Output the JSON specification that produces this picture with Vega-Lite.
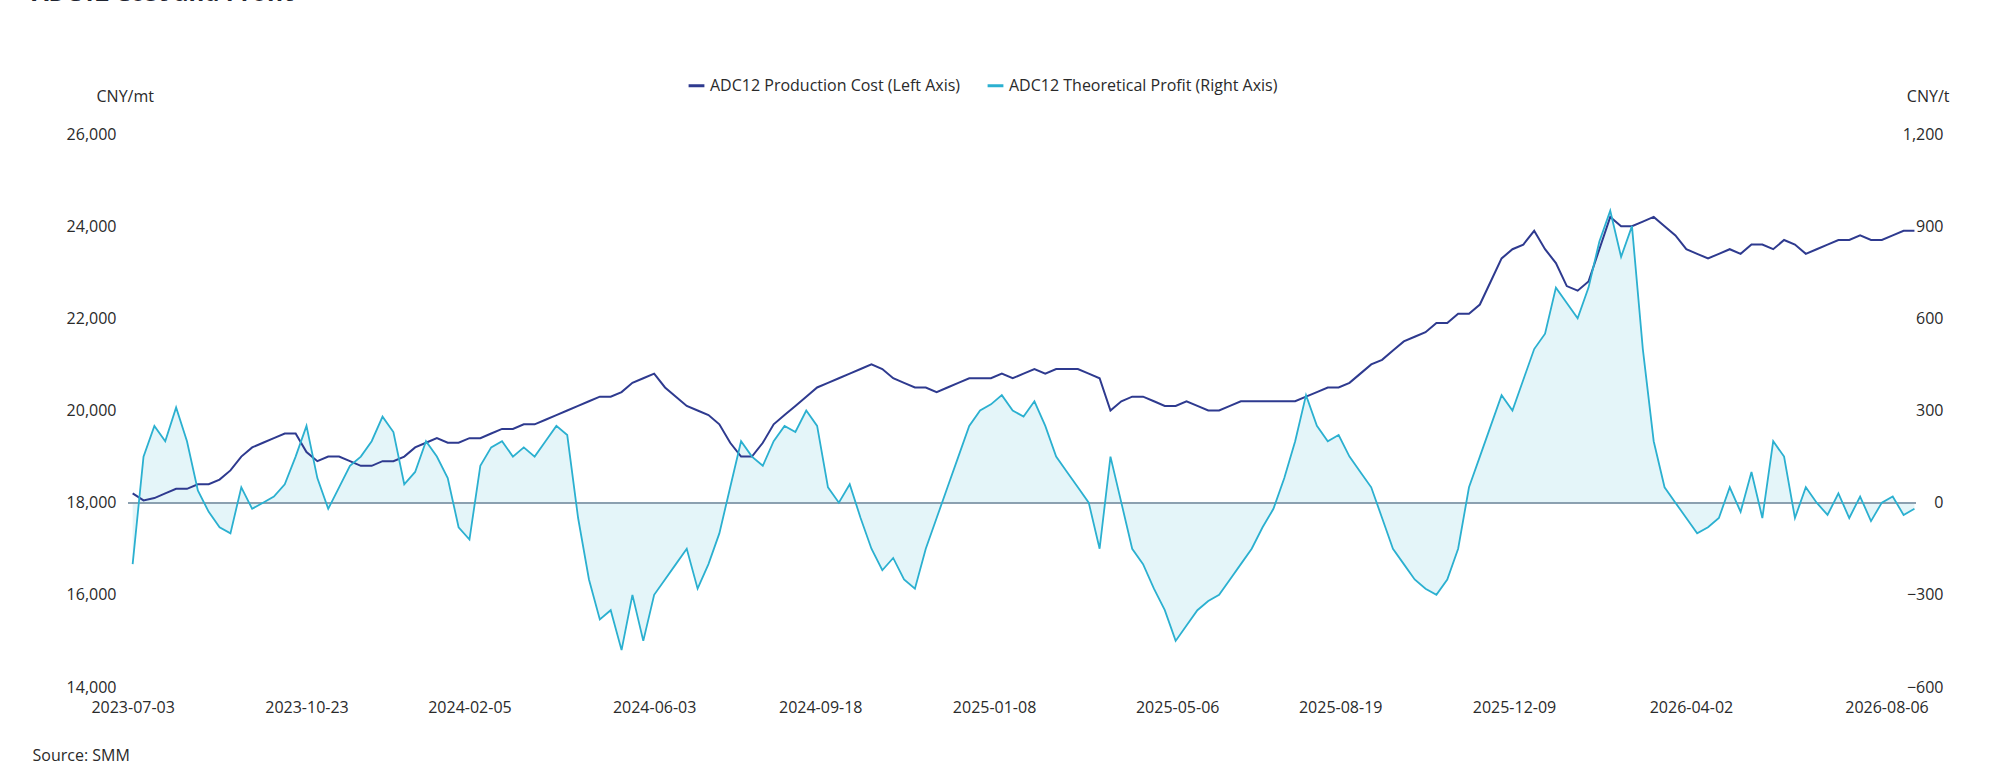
{
"$schema":"https://vega.github.io/schema/vega-lite/v6.json",
"width":1788,"height":553,
"autosize":{"type":"none"},
"padding":{"left":128,"top":134,"right":91,"bottom":96},
"background":"white",
"config":{"font":"Open Sans","view":{"stroke":null}},
"title":{"text":"ADC12 Cost and Profit","anchor":"start","frame":"group","dx":-96,"offset":70,"fontSize":24,"fontWeight":"bold","color":"#1f2430","font":"Open Sans"},
"data":{"values":[
{"d":"2023-07-03","c":18200,"p":-200},{"d":"2023-07-10","c":18050,"p":150},{"d":"2023-07-17","c":18100,"p":250},{"d":"2023-07-24","c":18200,"p":200},{"d":"2023-07-31","c":18300,"p":310},{"d":"2023-08-07","c":18300,"p":200},{"d":"2023-08-14","c":18400,"p":40},{"d":"2023-08-21","c":18400,"p":-30},{"d":"2023-08-28","c":18500,"p":-80},{"d":"2023-09-04","c":18700,"p":-100},{"d":"2023-09-11","c":19000,"p":50},{"d":"2023-09-18","c":19200,"p":-20},{"d":"2023-09-25","c":19300,"p":0},{"d":"2023-10-02","c":19400,"p":20},{"d":"2023-10-09","c":19500,"p":60},{"d":"2023-10-16","c":19500,"p":150},
{"d":"2023-10-23","c":19100,"p":250},{"d":"2023-10-30","c":18900,"p":80},{"d":"2023-11-06","c":19000,"p":-20},{"d":"2023-11-13","c":19000,"p":50},{"d":"2023-11-20","c":18900,"p":120},{"d":"2023-11-27","c":18800,"p":150},{"d":"2023-12-04","c":18800,"p":200},{"d":"2023-12-11","c":18900,"p":280},{"d":"2023-12-18","c":18900,"p":230},{"d":"2023-12-25","c":19000,"p":60},{"d":"2024-01-01","c":19200,"p":100},{"d":"2024-01-08","c":19300,"p":200},{"d":"2024-01-15","c":19400,"p":150},{"d":"2024-01-22","c":19300,"p":80},{"d":"2024-01-29","c":19300,"p":-80},{"d":"2024-02-05","c":19400,"p":-120},
{"d":"2024-02-12","c":19400,"p":120},{"d":"2024-02-19","c":19500,"p":180},{"d":"2024-02-26","c":19600,"p":200},{"d":"2024-03-04","c":19600,"p":150},{"d":"2024-03-11","c":19700,"p":180},{"d":"2024-03-18","c":19700,"p":150},{"d":"2024-03-25","c":19800,"p":200},{"d":"2024-04-01","c":19900,"p":250},{"d":"2024-04-08","c":20000,"p":220},{"d":"2024-04-15","c":20100,"p":-50},{"d":"2024-04-22","c":20200,"p":-250},{"d":"2024-04-29","c":20300,"p":-380},{"d":"2024-05-06","c":20300,"p":-350},{"d":"2024-05-13","c":20400,"p":-480},{"d":"2024-05-20","c":20600,"p":-300},{"d":"2024-05-27","c":20700,"p":-450},
{"d":"2024-06-03","c":20800,"p":-300},{"d":"2024-06-10","c":20500,"p":-250},{"d":"2024-06-17","c":20300,"p":-200},{"d":"2024-06-24","c":20100,"p":-150},{"d":"2024-07-01","c":20000,"p":-280},{"d":"2024-07-08","c":19900,"p":-200},{"d":"2024-07-15","c":19700,"p":-100},{"d":"2024-07-22","c":19300,"p":50},{"d":"2024-07-29","c":19000,"p":200},{"d":"2024-08-05","c":19000,"p":150},{"d":"2024-08-12","c":19300,"p":120},{"d":"2024-08-19","c":19700,"p":200},{"d":"2024-08-26","c":19900,"p":250},{"d":"2024-09-02","c":20100,"p":230},{"d":"2024-09-09","c":20300,"p":300},
{"d":"2024-09-16","c":20500,"p":250},{"d":"2024-09-23","c":20600,"p":50},{"d":"2024-09-30","c":20700,"p":0},{"d":"2024-10-07","c":20800,"p":60},{"d":"2024-10-14","c":20900,"p":-50},{"d":"2024-10-21","c":21000,"p":-150},{"d":"2024-10-28","c":20900,"p":-220},{"d":"2024-11-04","c":20700,"p":-180},{"d":"2024-11-11","c":20600,"p":-250},{"d":"2024-11-18","c":20500,"p":-280},{"d":"2024-11-25","c":20500,"p":-150},{"d":"2024-12-02","c":20400,"p":-50},{"d":"2024-12-09","c":20500,"p":50},{"d":"2024-12-16","c":20600,"p":150},{"d":"2024-12-23","c":20700,"p":250},{"d":"2024-12-30","c":20700,"p":300},
{"d":"2025-01-06","c":20700,"p":320},{"d":"2025-01-13","c":20800,"p":350},{"d":"2025-01-20","c":20700,"p":300},{"d":"2025-01-27","c":20800,"p":280},{"d":"2025-02-03","c":20900,"p":330},{"d":"2025-02-10","c":20800,"p":250},{"d":"2025-02-17","c":20900,"p":150},{"d":"2025-02-24","c":20900,"p":100},{"d":"2025-03-03","c":20900,"p":50},{"d":"2025-03-10","c":20800,"p":0},{"d":"2025-03-17","c":20700,"p":-150},{"d":"2025-03-24","c":20000,"p":150},{"d":"2025-03-31","c":20200,"p":0},{"d":"2025-04-07","c":20300,"p":-150},{"d":"2025-04-14","c":20300,"p":-200},{"d":"2025-04-21","c":20200,"p":-280},{"d":"2025-04-28","c":20100,"p":-350},
{"d":"2025-05-05","c":20100,"p":-450},{"d":"2025-05-12","c":20200,"p":-400},{"d":"2025-05-19","c":20100,"p":-350},{"d":"2025-05-26","c":20000,"p":-320},{"d":"2025-06-02","c":20000,"p":-300},{"d":"2025-06-09","c":20100,"p":-250},{"d":"2025-06-16","c":20200,"p":-200},{"d":"2025-06-23","c":20200,"p":-150},{"d":"2025-06-30","c":20200,"p":-80},{"d":"2025-07-07","c":20200,"p":-20},{"d":"2025-07-14","c":20200,"p":80},{"d":"2025-07-21","c":20200,"p":200},{"d":"2025-07-28","c":20300,"p":350},{"d":"2025-08-04","c":20400,"p":250},{"d":"2025-08-11","c":20500,"p":200},
{"d":"2025-08-18","c":20500,"p":220},{"d":"2025-08-25","c":20600,"p":150},{"d":"2025-09-01","c":20800,"p":100},{"d":"2025-09-08","c":21000,"p":50},{"d":"2025-09-15","c":21100,"p":-50},{"d":"2025-09-22","c":21300,"p":-150},{"d":"2025-09-29","c":21500,"p":-200},{"d":"2025-10-06","c":21600,"p":-250},{"d":"2025-10-13","c":21700,"p":-280},{"d":"2025-10-20","c":21900,"p":-300},{"d":"2025-10-27","c":21900,"p":-250},{"d":"2025-11-03","c":22100,"p":-150},{"d":"2025-11-10","c":22100,"p":50},{"d":"2025-11-17","c":22300,"p":150},{"d":"2025-11-24","c":22800,"p":250},{"d":"2025-12-01","c":23300,"p":350},
{"d":"2025-12-08","c":23500,"p":300},{"d":"2025-12-15","c":23600,"p":400},{"d":"2025-12-22","c":23900,"p":500},{"d":"2025-12-29","c":23500,"p":550},{"d":"2026-01-05","c":23200,"p":700},{"d":"2026-01-12","c":22700,"p":650},{"d":"2026-01-19","c":22600,"p":600},{"d":"2026-01-26","c":22800,"p":700},{"d":"2026-02-02","c":23500,"p":850},{"d":"2026-02-09","c":24200,"p":950},{"d":"2026-02-16","c":24000,"p":800},{"d":"2026-02-23","c":24000,"p":900},{"d":"2026-03-02","c":24100,"p":500},{"d":"2026-03-09","c":24200,"p":200},{"d":"2026-03-16","c":24000,"p":50},{"d":"2026-03-23","c":23800,"p":0},
{"d":"2026-03-30","c":23500,"p":-50},{"d":"2026-04-06","c":23400,"p":-100},{"d":"2026-04-13","c":23300,"p":-80},{"d":"2026-04-20","c":23400,"p":-50},{"d":"2026-04-27","c":23500,"p":50},{"d":"2026-05-04","c":23400,"p":-30},{"d":"2026-05-11","c":23600,"p":100},{"d":"2026-05-18","c":23600,"p":-50},{"d":"2026-05-25","c":23500,"p":200},{"d":"2026-06-01","c":23700,"p":150},{"d":"2026-06-08","c":23600,"p":-50},{"d":"2026-06-15","c":23400,"p":50},{"d":"2026-06-22","c":23500,"p":0},{"d":"2026-06-29","c":23600,"p":-40},{"d":"2026-07-06","c":23700,"p":30},{"d":"2026-07-13","c":23700,"p":-50},{"d":"2026-07-20","c":23800,"p":20},{"d":"2026-07-27","c":23700,"p":-60},{"d":"2026-08-03","c":23700,"p":0},{"d":"2026-08-10","c":23800,"p":20},{"d":"2026-08-17","c":23900,"p":-40},{"d":"2026-08-24","c":23900,"p":-20}
]},
"encoding":{"x":{"field":"d","type":"temporal","scale":{"domain":["2023-06-30","2026-08-25"]},
 "axis":{"values":["2023-07-03","2023-10-23","2024-02-05","2024-06-03","2024-09-18","2025-01-08","2025-05-06","2025-08-19","2025-12-09","2026-04-02","2026-08-06"],"format":"%Y-%m-%d","labelFontSize":16,"labelColor":"#2a2a2a","labelPadding":12,"ticks":false,"domain":false,"grid":false,"title":"Source:  SMM","titleAnchor":"start","titleX":-96,"titleY":60,"titleFontSize":16,"titleFontWeight":"normal","titleColor":"#2a2a2a","titleAlign":"left"}}},
"layer":[
{"mark":{"type":"area","color":"#2bb3d3","opacity":0.13,"interpolate":"linear"},
 "encoding":{"y":{"field":"p","type":"quantitative","scale":{"domain":[-600,1200]},"axis":null},"y2":{"datum":0}}},
{"mark":{"type":"rule","color":"#8aa0b0","strokeWidth":1.2},"encoding":{"y":{"datum":0,"type":"quantitative","scale":{"domain":[-600,1200]},"axis":null},"x":{"value":0},"x2":{"value":1788}}},
{"mark":{"type":"line","strokeWidth":2,"interpolate":"linear"},
 "encoding":{"y":{"field":"c","type":"quantitative","scale":{"domain":[14000,26000]},
   "axis":{"values":[14000,16000,18000,20000,22000,24000,26000],"format":",.0f","orient":"left","labelFontSize":16,"labelColor":"#2a2a2a","labelPadding":12,"ticks":false,"domain":false,"grid":false,"title":"CNY/mt","titleAngle":0,"titleX":-32,"titleY":-30,"titleAlign":"left","titleFontSize":16,"titleFontWeight":"normal","titleColor":"#2a2a2a"}},
  "color":{"datum":"ADC12 Production Cost (Left Axis)","type":"nominal","scale":{"domain":["ADC12 Production Cost (Left Axis)","ADC12 Theoretical Profit (Right Axis)"],"range":["#2e3a8f","#2bb0d0"]},
   "legend":{"orient":"none","legendX":559,"legendY":-58,"direction":"horizontal","title":null,"labelFontSize":16,"labelColor":"#2a2a2a","symbolType":"stroke","symbolStrokeWidth":3,"symbolSize":250,"columnPadding":20,"labelLimit":400}}}},
{"mark":{"type":"line","strokeWidth":1.8,"interpolate":"linear"},
 "encoding":{"y":{"field":"p","type":"quantitative","scale":{"domain":[-600,1200]},
   "axis":{"values":[-600,-300,0,300,600,900,1200],"format":",.0f","orient":"right","labelAlign":"right","labelFontSize":16,"labelColor":"#2a2a2a","labelPadding":27,"ticks":false,"domain":false,"grid":false,"title":"CNY/t","titleAngle":0,"titleX":33,"titleY":-30,"titleAlign":"right","titleFontSize":16,"titleFontWeight":"normal","titleColor":"#2a2a2a"}},
  "color":{"datum":"ADC12 Theoretical Profit (Right Axis)","type":"nominal"}}}
],
"resolve":{"scale":{"y":"independent"}}
}
